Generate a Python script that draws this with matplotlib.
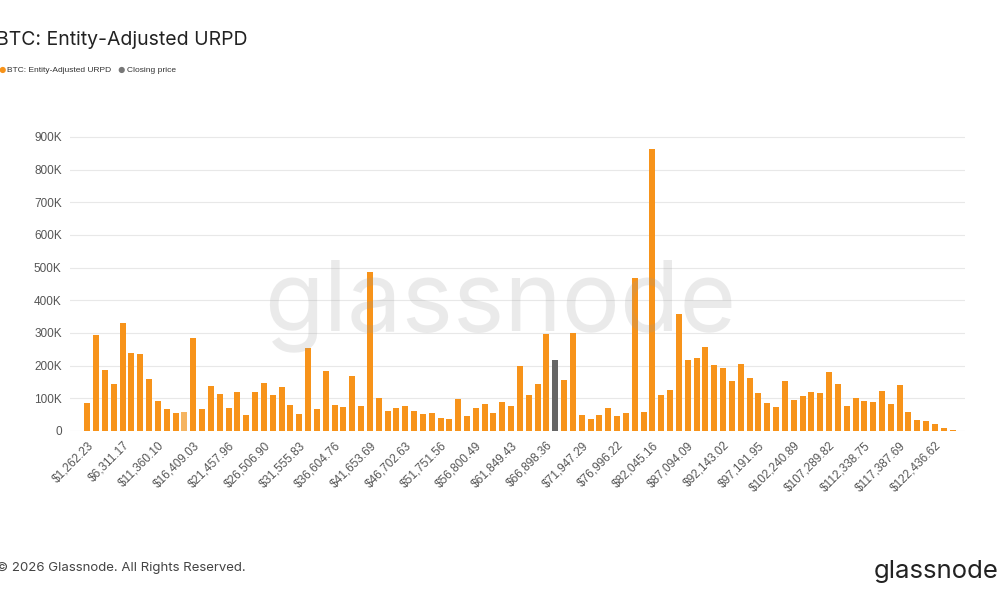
import matplotlib.pyplot as plt
from matplotlib.ticker import FuncFormatter

plt.rcParams["font.family"] = ["Inter", "DejaVu Sans"]
small_font = ["Liberation Sans", "DejaVu Sans"]

# bin width of the price buckets (USD)
bin_width = 1262.233177
# supply per bucket (thousand BTC)
supply = [
    85, 293, 186, 145, 331, 239, 235, 158, 92, 67,
    54, 57, 285, 66, 137, 113, 69, 119, 48, 118,
    148, 111, 135, 78, 52, 254, 67, 184, 80, 73,
    168, 75, 486, 100, 60, 69, 77, 62, 52, 56,
    39, 38, 97, 46, 70, 82, 54, 89, 77, 199,
    109, 144, 298, 217, 156, 301, 49, 36, 49, 70,
    45, 56, 468, 58, 862, 110, 124, 357, 218, 222,
    257, 203, 194, 152, 206, 161, 116, 87, 73, 153,
    95, 108, 119, 116, 181, 145, 76, 102, 91, 89,
    121, 84, 140, 59, 34, 32, 21, 9, 4,
]
supply = [v * 1000 for v in supply]
prices = [(i + 1) * bin_width for i in range(len(supply))]
closing_idx = 53
faded_idx = 11

orange = "#F7931A"
colors = [orange] * len(supply)
colors[closing_idx] = "#666666"
colors[faded_idx] = "#F5B461"

fig = plt.figure(figsize=(10, 6), dpi=100)
ax = fig.add_axes([0.07, 0.2817, 0.895, 0.5175])

x = list(range(len(supply)))
ax.bar(x, supply, width=0.68, color=colors, zorder=2)

ax.set_xlim(-1.96, 99.4)
ax.set_ylim(0, 950000)
ax.set_yticks(range(0, 900001, 100000))
ax.yaxis.set_major_formatter(FuncFormatter(lambda v, p: "0" if v == 0 else f"{int(v/1000)}K"))
ax.grid(axis="y", color="#e8e8e8", linewidth=0.8, zorder=0)

tick_pos = x[::4]
ax.set_xticks(tick_pos)
ax.set_xticklabels([f"${prices[i]:,.2f}" for i in tick_pos], rotation=45,
                   ha="right", rotation_mode="anchor", family=small_font)
for lab in ax.get_yticklabels():
    lab.set_family(small_font)
ax.tick_params(axis="x", length=0, labelsize=8.5, colors="#555555", pad=6)
ax.tick_params(axis="y", length=0, labelsize=8.5, colors="#555555", pad=6)
for s in ax.spines.values():
    s.set_visible(False)

# watermark
fig.text(0.5, 0.49, "glassnode", fontsize=70, color="#9a9a9a", alpha=0.2,
         ha="center", va="center", zorder=10)

fig.text(-0.004, 0.925, "BTC: Entity-Adjusted URPD", fontsize=14, color="#222222",
         va="baseline", ha="left")
fig.text(0.002, 0.883, "\u25CF", fontsize=6, color=orange, va="center", ha="center")
fig.text(0.007, 0.883, "BTC: Entity-Adjusted URPD", fontsize=6, color="#333333",
         va="center", family=small_font)
fig.text(0.121, 0.883, "\u25CF", fontsize=6, color="#777777", va="center", ha="center")
fig.text(0.127, 0.883, "Closing price", fontsize=6, color="#333333", va="center",
         family=small_font)

fig.text(-0.004, 0.053, "\u00A9 2026 Glassnode. All Rights Reserved.", fontsize=9.5,
         color="#444444", va="center")
fig.text(0.999, 0.047, "glassnode", fontsize=18.5, color="#222222", va="center", ha="right")

fig.savefig("out.png", dpi=100)
